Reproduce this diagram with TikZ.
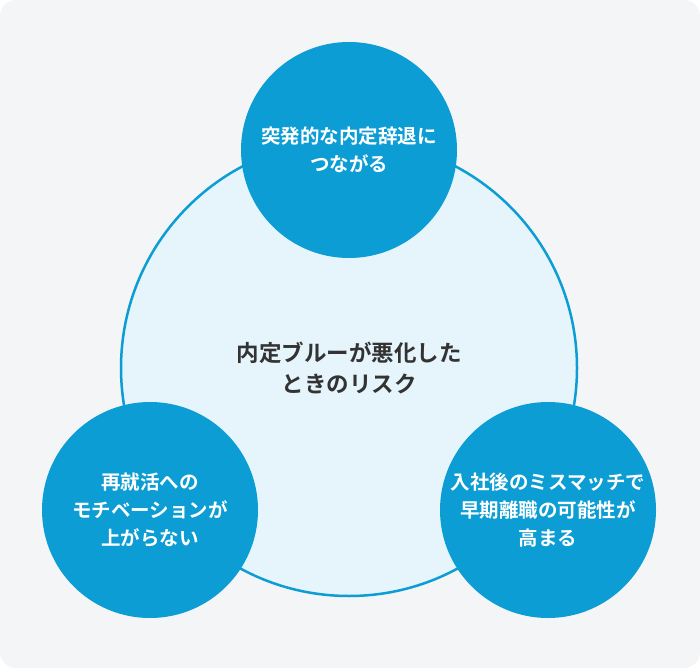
\documentclass[tikz,border=0pt]{standalone}
\usepackage{fontspec}
\newfontfamily\cjk{Noto Sans CJK JP}[BoldFont={* Bold}]
\definecolor{bg}{HTML}{F4F5F7}
\definecolor{mainblue}{HTML}{0B9DD3}
\definecolor{lightblue}{HTML}{E6F4FB}
\definecolor{darktext}{HTML}{333333}
\begin{document}
\begin{tikzpicture}[x=1pt,y=-1pt,
  small/.style={circle,fill=mainblue,minimum size=216pt,inner sep=0pt,text=white,align=center,font=\cjk\bfseries\fontsize{19.5}{28}\selectfont},
  big/.style={circle,fill=lightblue,draw=mainblue,line width=2.5pt,minimum size=456pt,inner sep=0pt,text=darktext,align=center,font=\cjk\bfseries\fontsize{22.5}{31}\selectfont}]
\fill[bg,rounded corners=16pt] (0,0) rectangle (700,668);
\useasboundingbox (0,0) rectangle (700,668);
\node[big] (center) at (349,368) {内定ブルーが悪化した\\ときのリスク};
\node[small] (top) at (349,150) {突発的な内定辞退に\\つながる};
\node[small] (left) at (150,510) {再就活への\\モチベーションが\\上がらない};
\node[small] (right) at (548,510) {入社後のミスマッチで\\早期離職の可能性が\\高まる};
\end{tikzpicture}
\end{document}
